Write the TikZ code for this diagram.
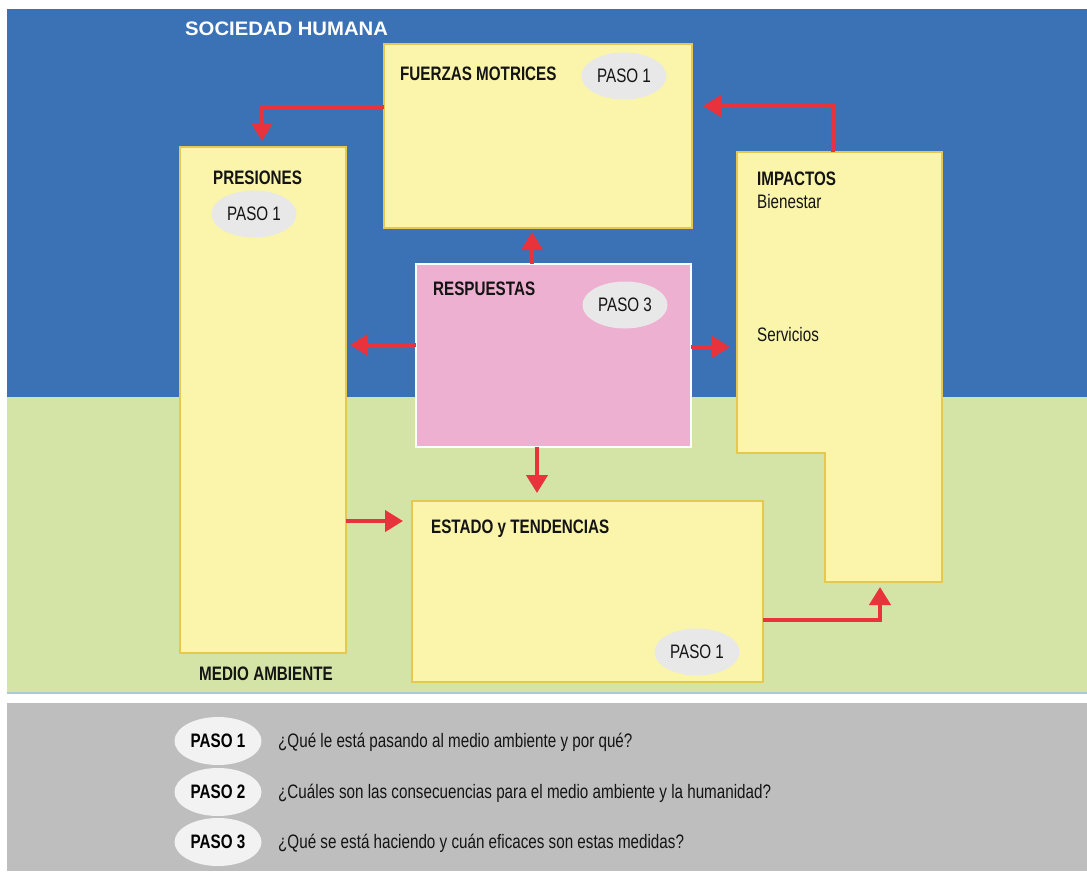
\documentclass[tikz,border=0pt]{standalone}
\usepackage{fontspec}
\setmainfont{Liberation Sans}
\newfontfamily\cf[FakeStretch=0.78]{Liberation Sans}
\newfontfamily\wf[FakeStretch=1.04]{Liberation Sans}
\usetikzlibrary{arrows.meta,shapes.geometric}

\definecolor{sky}{HTML}{3A72B5}
\definecolor{meadow}{HTML}{D4E4A6}
\definecolor{sepline}{HTML}{A9C9D6}
\definecolor{legendgray}{HTML}{BEBEBE}
\definecolor{boxfill}{HTML}{FAF5AA}
\definecolor{boxline}{HTML}{E6C850}
\definecolor{pinkfill}{HTML}{EEB0D0}
\definecolor{arrowred}{HTML}{E8323C}
\definecolor{ovalgray}{HTML}{E8E8E8}
\definecolor{legendoval}{HTML}{F2F2F2}
\definecolor{ink}{HTML}{141414}

\begin{document}
\begin{tikzpicture}[x=1pt,y=-1pt,
  box/.style={draw=boxline, line width=1.5pt, fill=boxfill, inner sep=0pt,
    outer sep=0pt, anchor=north west},
  oval/.style={ellipse, fill=ovalgray, inner sep=0pt, minimum width=85pt,
    minimum height=47pt, text=ink, font=\cf\fontsize{19.5}{22}\selectfont},
  keyoval/.style={oval, fill=legendoval, minimum width=87pt, minimum height=48pt,
    font=\cf\bfseries\fontsize{19.5}{22}\selectfont, text=black},
  title/.style={anchor=base west, inner sep=0pt, text=ink,
    font=\cf\bfseries\fontsize{19.5}{22}\selectfont},
  plain/.style={anchor=base west, inner sep=0pt, text=ink,
    font=\cf\fontsize{19.5}{22}\selectfont},
  arr/.style={draw=arrowred, line width=4pt, -{Triangle[width=21pt,length=18pt]}}
]
\useasboundingbox (0,0) rectangle (1087,871);

% background bands
\fill[white] (0,0) rectangle (1087,871);
\fill[sky] (7,9) rectangle (1087,397);
\fill[meadow] (7,397) rectangle (1087,692);
\fill[sepline] (7,692) rectangle (1087,694);
\fill[legendgray] (7,703) rectangle (1087,871);

\node[anchor=base west, inner sep=0pt, text=white,
  font=\wf\bfseries\fontsize{19.5}{22}\selectfont] (soc) at (185,35) {SOCIEDAD HUMANA};
\node[title] (med) at (199,680) {MEDIO AMBIENTE};

% boxes
\node[box, minimum width=308pt, minimum height=184pt] (fz) at (384,44) {};
\node[box, minimum width=166pt, minimum height=506pt] (pr) at (180,147) {};
\node[box, minimum width=351pt, minimum height=181pt] (es) at (412,501) {};
\node[box, draw=white, line width=2pt, fill=pinkfill,
  minimum width=275pt, minimum height=183pt] (re) at (416,264) {};

% stepped impacts box
\draw[draw=boxline, line width=1.5pt, fill=boxfill]
  (737,152) -- (942,152) -- (942,582) -- (825,582) -- (825,453) -- (737,453) -- cycle;
\coordinate (im-top) at (833,152);
\coordinate (im-left) at (737,347);
\coordinate (im-base) at (880,582);

% box contents
\node[title] (fzt) at (400,80) {FUERZAS MOTRICES};
\node[oval] (fzo) at (624,76) {PASO 1};
\node[title] (prt) at (213,184) {PRESIONES};
\node[oval] (pro) at (254,214) {PASO 1};
\node[title] (ret) at (433,295) {RESPUESTAS};
\node[oval] (reo) at (625,305) {PASO 3};
\node[title] (est) at (431,533) {ESTADO y TENDENCIAS};
\node[oval] (eso) at (697,652) {PASO 1};
\node[title] (imt) at (757,185) {IMPACTOS};
\node[plain] (imb) at (757,208) {Bienestar};
\node[plain] (ims) at (757,341) {Servicios};

% connectors
\draw[arr, shorten >=6pt] (fz.west |- 0,107) -| (262,0 |- pr.north);
\draw[arr, shorten >=11pt] (im-top) |- (fz.east |- 0,106);
\draw[arr, shorten >=4pt] (532,0 |- re.north) -- (532,0 |- fz.south);
\draw[arr, shorten >=4pt] (re.west |- 0,345) -- (pr.east |- 0,345);
\draw[arr, shorten >=7pt] (re.east |- 0,347) -- (im-left);
\draw[arr, shorten >=8pt] (537,0 |- re.south) -- (537,0 |- es.north);
\draw[arr, shorten >=9pt] (pr.east |- 0,521) -- (es.west |- 0,521);
\draw[arr, shorten >=5pt] (es.east |- 0,620) -| (im-base);

% key
\node[keyoval] (k1) at (218,741) {PASO 1};
\node[keyoval] (k2) at (218,792) {PASO 2};
\node[keyoval] (k3) at (218,842) {PASO 3};
\node[plain] (q1) at (278,747) {¿Qué le está pasando al medio ambiente y por qué?};
\node[plain] (q2) at (278,798) {¿Cuáles son las consecuencias para el medio ambiente y la humanidad?};
\node[plain] (q3) at (278,848) {¿Qué se está haciendo y cuán eficaces son estas medidas?};
\end{tikzpicture}
\end{document}
